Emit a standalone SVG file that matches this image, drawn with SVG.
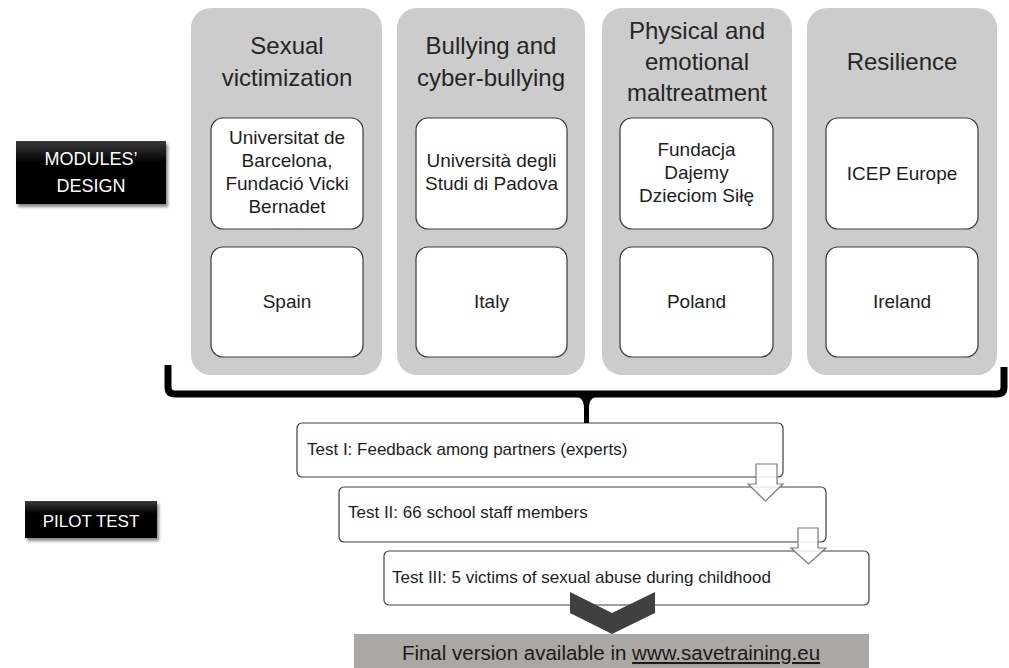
<svg xmlns="http://www.w3.org/2000/svg" width="1009" height="668" viewBox="0 0 1009 668">
<defs>
<linearGradient id="blk" x1="0" y1="0" x2="0" y2="1">
<stop offset="0" stop-color="#3a3a3a"/>
<stop offset="0.35" stop-color="#000"/>
<stop offset="1" stop-color="#000"/>
</linearGradient>
<filter id="sh" x="-10%" y="-20%" width="130%" height="160%">
<feGaussianBlur stdDeviation="1.5"/>
</filter>
<style>
.col{fill:#cccccc}
.inner{fill:#fff;stroke:#3a3a3a;stroke-width:1.2}
.title{font-family:"Liberation Sans",Arial,sans-serif;font-size:24px;fill:#262626;text-anchor:middle}
.itxt{font-family:"Liberation Sans",Arial,sans-serif;font-size:19px;fill:#1e1e1e;text-anchor:middle}
.lbl{font-family:"Liberation Sans",Arial,sans-serif;fill:#fff;text-anchor:middle}
.test{fill:#fff;stroke:#404040;stroke-width:1.2}
.ttxt{font-family:"Liberation Sans",Arial,sans-serif;font-size:17px;fill:#1e1e1e}
.harrow{fill:#fff;fill-opacity:0.85;stroke:#7a7a7a;stroke-width:1.2}
</style>
</defs>
<rect width="1009" height="668" fill="#fff"/>

<g id="label-modules">
<rect x="18" y="144" width="150" height="63" fill="#888" filter="url(#sh)"/>
<rect x="16" y="141" width="150" height="63" fill="url(#blk)"/>
<text class="lbl" x="91" y="165" font-size="18">MODULES’</text>
<text class="lbl" x="91" y="192" font-size="18">DESIGN</text>
</g>

<g id="label-pilot">
<rect x="27" y="504" width="132" height="37" fill="#888" filter="url(#sh)"/>
<rect x="25" y="501" width="132" height="37" fill="url(#blk)"/>
<text class="lbl" x="91" y="527" font-size="17">PILOT TEST</text>
</g>

<g id="col-sexual">
<rect class="col" x="191" y="8" width="191" height="367" rx="20"/>
<text class="title" x="287" y="54">Sexual</text>
<text class="title" x="287" y="86">victimization</text>
<rect class="inner" x="211" y="118" width="152" height="111" rx="12"/>
<text class="itxt" x="287" y="144">Universitat de</text>
<text class="itxt" x="287" y="167">Barcelona,</text>
<text class="itxt" x="287" y="190">Fundació Vicki</text>
<text class="itxt" x="287" y="213">Bernadet</text>
<rect class="inner" x="211" y="247" width="152" height="110" rx="12"/>
<text class="itxt" x="287" y="308">Spain</text>
</g>

<g id="col-bullying">
<rect class="col" x="397" y="8" width="188" height="367" rx="20"/>
<text class="title" x="491" y="54">Bullying and</text>
<text class="title" x="491" y="86">cyber-bullying</text>
<rect class="inner" x="416" y="118" width="151" height="111" rx="12"/>
<text class="itxt" x="491.5" y="167">Università degli</text>
<text class="itxt" x="491.5" y="190">Studi di Padova</text>
<rect class="inner" x="416" y="247" width="151" height="110" rx="12"/>
<text class="itxt" x="491.5" y="308">Italy</text>
</g>

<g id="col-physical">
<rect class="col" x="602" y="8" width="190" height="367" rx="20"/>
<text class="title" x="697" y="39">Physical and</text>
<text class="title" x="697" y="70">emotional</text>
<text class="title" x="697" y="101">maltreatment</text>
<rect class="inner" x="620" y="118" width="153" height="111" rx="12"/>
<text class="itxt" x="696.5" y="156">Fundacja</text>
<text class="itxt" x="696.5" y="179">Dajemy</text>
<text class="itxt" x="696.5" y="202">Dzieciom Siłę</text>
<rect class="inner" x="620" y="247" width="153" height="110" rx="12"/>
<text class="itxt" x="696.5" y="308">Poland</text>
</g>

<g id="col-resilience">
<rect class="col" x="807" y="8" width="190" height="367" rx="20"/>
<text class="title" x="902" y="70">Resilience</text>
<rect class="inner" x="826" y="118" width="152" height="111" rx="12"/>
<text class="itxt" x="902" y="180">ICEP Europe</text>
<rect class="inner" x="826" y="247" width="152" height="110" rx="12"/>
<text class="itxt" x="902" y="308">Ireland</text>
</g>

<g id="test-1">
<rect class="test" x="297" y="423" width="486" height="54" rx="5"/>
<text class="ttxt" x="307" y="455">Test I: Feedback among partners (experts)</text>
</g>
<g id="test-2">
<rect class="test" x="339" y="487" width="487" height="55" rx="5"/>
<text class="ttxt" x="348" y="518">Test II: 66 school staff members</text>
</g>
<g id="test-3">
<rect class="test" x="384" y="551" width="485" height="54" rx="5"/>
<text class="ttxt" x="392" y="583">Test III: 5 victims of sexual abuse during childhood</text>
</g>

<g id="final">
<rect x="354" y="634" width="515" height="40" fill="#aba7a5"/>
<text x="611" y="660" font-family="'Liberation Sans',Arial,sans-serif" font-size="20.5" fill="#1a1a1a" text-anchor="middle">Final version available in <tspan text-decoration="underline">www.savetraining.eu</tspan></text>
</g>

<g id="connectors">
<path d="M168,365 L168,387 Q168,394 175,394 L997,394 Q1004,394 1004,387 L1004,367" fill="none" stroke="#000" stroke-width="7"/>
<path d="M578,397 Q584,399 584,408 L584,423 L589,423 L589,408 Q589,399 595,397 Z" fill="#000"/>
<path class="harrow" d="M756,464 L777,464 L777,484 L783,484 L765.5,501 L748,484 L756,484 Z"/>
<path class="harrow" d="M798,528 L818,528 L818,548 L826,548 L808.5,564 L791,548 L798,548 Z"/>
<path d="M570,592 L612,613 L655,592 L655,613 L612,634 L570,613 Z" fill="#404040"/>
</g>
</svg>
